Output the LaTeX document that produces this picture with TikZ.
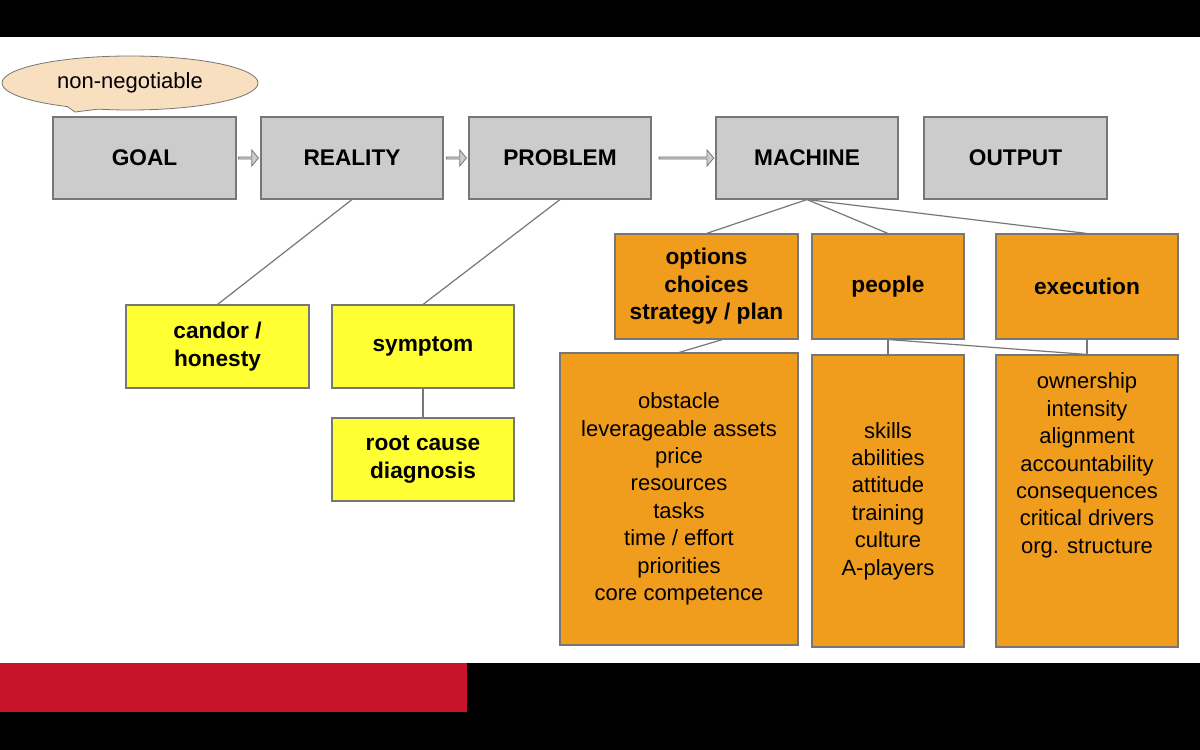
\documentclass[tikz,border=0pt]{standalone}
\usepackage{fontspec}
\setmainfont{Liberation Sans}
\usetikzlibrary{shapes.geometric,shapes.arrows,shapes.callouts}
\definecolor{boxgray}{HTML}{CCCCCC}
\definecolor{edgegray}{HTML}{777777}
\definecolor{org}{HTML}{F09C1C}
\definecolor{yel}{HTML}{FFFF33}
\definecolor{crim}{HTML}{C8142A}
\definecolor{tan}{HTML}{F7DFC0}
\begin{document}
\begin{tikzpicture}[x=0.75pt,y=-0.75pt,
  bx/.style={draw=edgegray,line width=0.8pt,inner sep=0pt,align=center,font=\bfseries\fontsize{17}{20.5}\selectfont},
  gray/.style={bx,fill=boxgray},
  yl/.style={bx,fill=yel},
  og/.style={bx,fill=org},
  lst/.style={draw=edgegray,line width=0.8pt,fill=org,inner sep=0pt,align=center,font=\fontsize{16.5}{20.6}\selectfont},
  ln/.style={draw=edgegray,line width=0.9pt},
  ar/.style={single arrow,draw=edgegray,fill=boxgray,line width=0.6pt,minimum height=#1,minimum width=12pt,single arrow head extend=2pt,inner sep=0pt,single arrow tip angle=100}
]
\useasboundingbox (0,0) rectangle (1200,750);
\fill[white] (0,0) rectangle (1200,750);
\fill[black] (0,0) rectangle (1200,37);
\fill[black] (0,663) rectangle (1200,750);
\fill[crim] (0,663) rectangle (467,712);

\node[gray,minimum width=183*0.75pt,minimum height=82*0.75pt] (goal) at (144.5,158) {GOAL};
\node[gray,minimum width=182*0.75pt,minimum height=82*0.75pt] (real) at (352,158) {REALITY};
\node[gray,minimum width=182*0.75pt,minimum height=82*0.75pt] (prob) at (560,158) {PROBLEM};
\node[gray,minimum width=182*0.75pt,minimum height=82*0.75pt] (mach) at (807,158) {MACHINE};
\node[gray,minimum width=183*0.75pt,minimum height=82*0.75pt] (out) at (1015.5,158) {OUTPUT};

\node[ellipse callout,draw=edgegray,fill=tan,line width=0.6pt,minimum width=256*0.75pt,minimum height=54*0.75pt,callout absolute pointer={(75,112)},inner sep=0pt,font=\fontsize{16.5}{20}\selectfont] (nn) at (130,83) {non-negotiable};

\node[ar=15pt] (a1) at (248,158) {};
\node[ar=15pt] (a2) at (456,158) {};
\node[ar=41pt] (a3) at (686,158) {};

\node[yl,minimum width=183*0.75pt,minimum height=83*0.75pt] (cand) at (217.5,346.5) {candor /\\honesty};
\node[yl,minimum width=182*0.75pt,minimum height=83*0.75pt] (symp) at (423,346.5) {symptom};
\node[yl,minimum width=182*0.75pt,minimum height=83*0.75pt] (root) at (423,459.5) {root cause\\diagnosis};

\node[og,minimum width=183*0.75pt,minimum height=105*0.75pt] (opt) at (706.5,286.5) {options\\choices\\strategy / plan};
\node[og,minimum width=152*0.75pt,minimum height=105*0.75pt] (peo) at (888,286.5) {people};
\node[og,minimum width=182*0.75pt,minimum height=105*0.75pt] (exe) at (1087,286.5) {execution};

\node[lst,minimum width=238*0.75pt,minimum height=292*0.75pt] (l1) at (679,499) {obstacle\\leverageable assets\\price\\resources\\tasks\\time / effort\\priorities\\core competence};
\node[lst,minimum width=152*0.75pt,minimum height=292*0.75pt] (l2) at (888,501) {skills\\abilities\\attitude\\training\\culture\\A-players};
\node[lst,minimum width=182*0.75pt,minimum height=292*0.75pt] (l3) at (1087,501) {ownership\\intensity\\alignment\\accountability\\consequences\\critical drivers\\org. structure\\[2.2em]};

\draw[ln] (real.south) -- (cand.north);
\draw[ln] (prob.south) -- (symp.north);
\draw[ln] (symp.south) -- (root.north);
\draw[ln] (mach.south) -- (opt.north);
\draw[ln] (mach.south) -- (peo.north);
\draw[ln] (mach.south) -- (exe.north);
\draw[ln] ([xshift=12pt]opt.south) -- (l1.north);
\draw[ln] (peo.south) -- (l2.north);
\draw[ln] (peo.south) -- (l3.north);
\draw[ln] (exe.south) -- (l3.north);
\end{tikzpicture}
\end{document}
